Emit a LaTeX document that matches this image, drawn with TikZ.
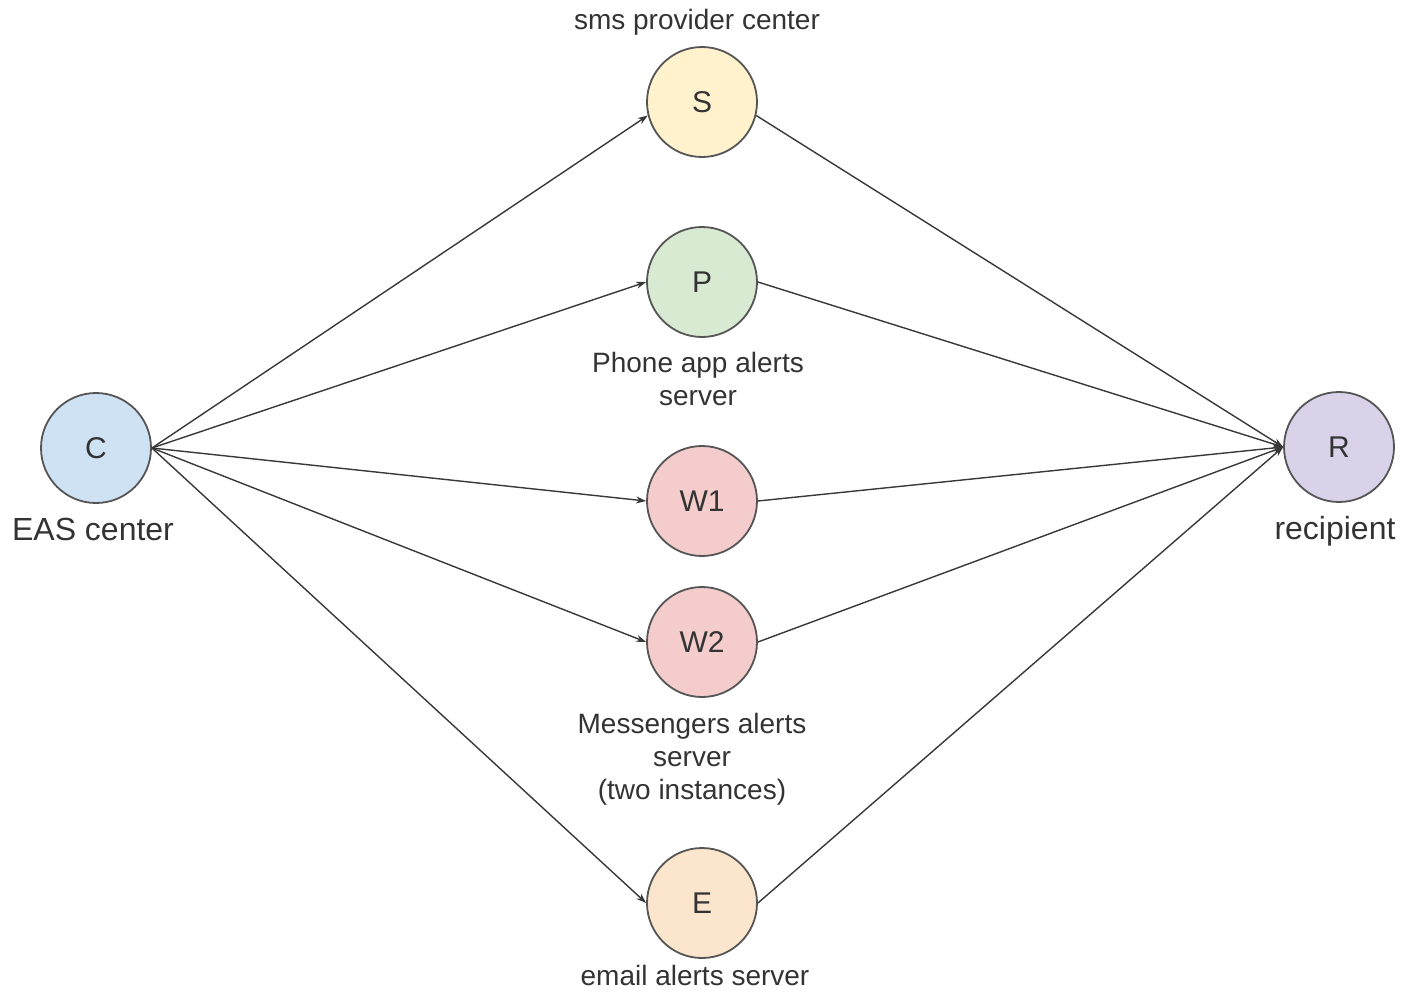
\documentclass[tikz,border=0pt]{standalone}
\usepackage{fontspec}
\setmainfont{Liberation Sans}
\usetikzlibrary{arrows.meta}
\definecolor{rim}{HTML}{555555}
\definecolor{ink}{HTML}{333333}
\definecolor{wire}{HTML}{383838}
\definecolor{fillC}{HTML}{CFE2F3}
\definecolor{fillS}{HTML}{FFF2CC}
\definecolor{fillP}{HTML}{D9EAD3}
\definecolor{fillW}{HTML}{F4CCCC}
\definecolor{fillE}{HTML}{FCE5CD}
\definecolor{fillR}{HTML}{D9D2E9}
\tikzset{
  hub/.style={circle, draw=rim, line width=1.8pt, minimum size=110pt, inner sep=0pt,
    text=ink, font=\fontsize{30}{34}\selectfont},
  lbl/.style={text=ink, align=center, inner sep=0pt, font=\fontsize{28}{33}\selectfont},
  biglbl/.style={text=ink, align=center, inner sep=0pt, font=\fontsize{32}{36}\selectfont},
  flow/.style={draw=wire, line width=1.4pt, -{Stealth[length=10pt,width=7pt]}},
}
\begin{document}
\begin{tikzpicture}[x=1pt,y=-1pt]
\useasboundingbox (0,0) rectangle (1413,991);

% nodes
\node[hub, fill=fillC] (C)  at (96,448)   {C};
\node[hub, fill=fillS] (S)  at (702,102)  {S};
\node[hub, fill=fillP] (P)  at (702,282)  {P};
\node[hub, fill=fillW] (W1) at (702,501)  {W1};
\node[hub, fill=fillW] (W2) at (702,642)  {W2};
\node[hub, fill=fillE] (E)  at (702,903)  {E};
\node[hub, fill=fillR] (R)  at (1339,447) {R};

% captions
\node[lbl] (sLbl) at (697,22) {sms provider center};
\node[lbl] (pLbl) at (698,379) {Phone app alerts\\server};
\node[biglbl] (cLbl) at (93,529) {EAS center};
\node[biglbl] (rLbl) at (1335,531) {recipient};
\node[lbl] (wLbl) at (692,759) {Messengers alerts\\server\\(two instances)};
\node[lbl, anchor=base] (eLbl) at (695,985) {email alerts server};

% fan-out from the EAS center
\draw[flow] (C.east) -- (S.194);
\draw[flow] (C.east) -- (P.west);
\draw[flow] (C.east) -- (W1.west);
\draw[flow] (C.east) -- (W2.west);
\draw[flow] (C.east) -- (E.west);

% delivery to the recipient
\draw[flow] (S.-14)   -- (R.west);
\draw[flow] (P.east)  -- (R.west);
\draw[flow] (W1.east) -- (R.west);
\draw[flow] (W2.east) -- (R.west);
\draw[flow] (E.east)  -- (R.west);
\end{tikzpicture}
\end{document}
